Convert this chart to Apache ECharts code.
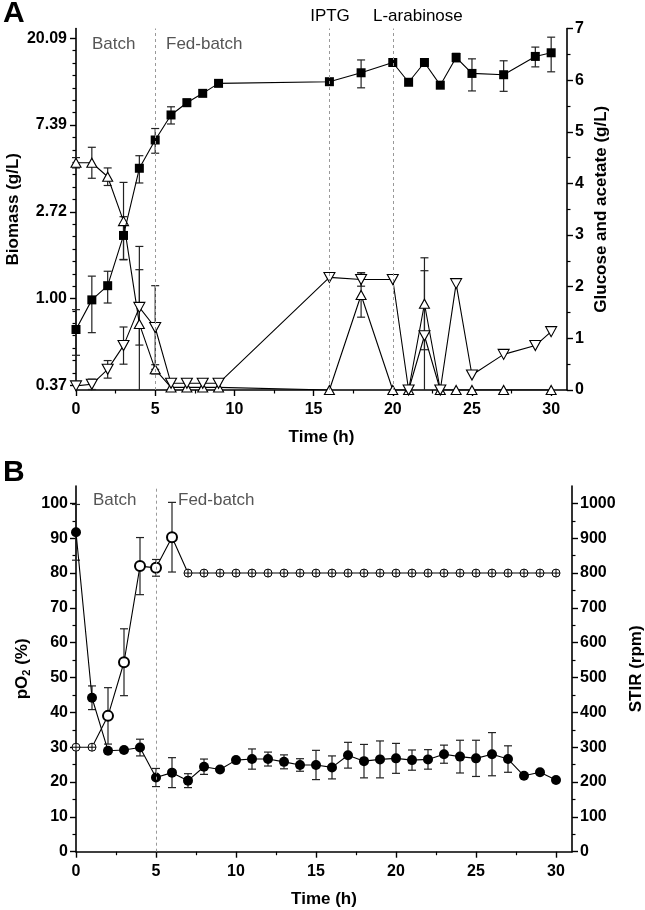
<!DOCTYPE html>
<html><head><meta charset="utf-8">
<script src="https://cdn.jsdelivr.net/npm/echarts@6/dist/echarts.min.js"></script>
<style>html,body{margin:0;padding:0;background:#fff}#c{width:645px;height:910px}</style>
</head><body><div id="c"></div>
<script>
// ---------- Panel A data ----------
const biomassTime = [0,1,2,3,4,5,6,7,8,9,16,18,20,21,22,23,24,25,27,29,30];
const biomass     = [0.70,0.985,1.16,2.07,4.49,6.22,8.30,9.56,10.65,11.95,12.18,13.5,15.2,12.1,15.2,11.7,16.1,13.4,13.2,16.3,17.0];
const biomassErr  = [0.18,0.31,0.21,0.5,0.7,0.88,0.82,0.4,0,0,0,2.15,0,0,0,0,0.8,2.45,2.3,1.85,3.35];

const glucoseTime = [0,1,2,3,4,5,6,7,8,9,16,18,20,21,22,23,24,25,27,30];
const glucose     = [4.40,4.40,4.13,3.27,1.28,0.40,0.05,0.05,0.05,0.05,0,1.84,0,0,1.67,0,0,0,0,0];
const glucoseErr  = [0.1,0.30,0.17,0.75,1.5,0.09,0,0,0,0,0,0.43,0,0,0.89,0,0,0,0,0];

const acetateTime = [0,1,2,3,4,5,6,7,8,9,16,18,20,21,22,23,24,25,27,29,30];
const acetate     = [0.08,0.11,0.40,0.86,1.60,1.21,0.13,0.13,0.13,0.13,2.18,2.14,2.14,0,1.05,0,2.06,0.29,0.69,0.86,1.13];
const acetateErr  = [0,0.1,0.17,0.36,0.73,0.81,0,0,0,0,0,0.13,0,0,1.26,0,0,0,0,0,0];

const eventTimesA  = [5,16,20];
const timeTicks    = [0,5,10,15,20,25,30];
const timeMinor    = [2.5,7.5,12.5,17.5,22.5,27.5];
const lnTicks      = [-1,0,1,2,3];          // natural-log positions: 0.37, 1.00, 2.72, 7.39, 20.09
const concTicks    = [0,1,2,3,4,5,6,7];
const concMinor    = [0.5,1.5,2.5,3.5,4.5,5.5,6.5];

// ---------- Panel B data ----------
const hoursB = [0,1,2,3,4,5,6,7,8,9,10,11,12,13,14,15,16,17,18,19,20,21,22,23,24,25,26,27,28,29,30];
const pO2    = [91.7,44.2,29.0,29.2,29.9,21.3,22.7,20.4,24.4,23.6,26.3,26.6,26.6,25.8,24.9,24.9,24.2,27.7,26.0,26.5,26.8,26.3,26.5,28.0,27.3,26.8,28.0,26.6,21.8,22.8,20.6];
const pO2Err = [8,3.4,0,0,2.4,2.6,4.3,2.0,2.2,0,0,2.9,2.0,2.0,1.8,4.2,3.3,3.7,4.8,5.3,4.3,2.9,2.8,2.6,4.7,5.2,6.2,3.8,0,0,0];
const stir    = [300,300,390,544,820,815,903,800,800,800,800,800,800,800,800,800,800,800,800,800,800,800,800,800,800,800,800,800,800,800,800];
const stirErr = [0,0,81,96,82,24,100,0,0,0,0,0,0,0,0,0,0,0,0,0,0,0,0,0,0,0,0,0,0,0,0];
const eventTimesB = [5];
const pO2Ticks  = [0,10,20,30,40,50,60,70,80,90,100];
const pO2Minor  = [5,15,25,35,45,55,65,75,85,95];
const stirTicks = [0,100,200,300,400,500,600,700,800,900,1000];
const stirMinor = [50,150,250,350,450,550,650,750,850,950];

// ---------- helpers ----------
const FONT = 'Liberation Sans, Arial, sans-serif';
const LN_MIN = -1.054, LN_MAX = 3.113;
const ident = v => v;
const lnT = v => (v > 0 ? Math.log(v) : -Infinity);
const lnMinor = [];
lnTicks.forEach(t => { for (let k = 1; k < 7; k++) { const m = t + k / 7; if (m < LN_MAX) lnMinor.push(m); } });

function errBars(xs, vals, errs, xi, yi, tf, yMin) {
  const data = [];
  xs.forEach((x, i) => { if (errs[i] > 0) data.push([x, vals[i], errs[i]]); });
  return {
    type: 'custom', xAxisIndex: xi, yAxisIndex: yi, z: 1, silent: true, animation: false,
    data: data,
    encode: { x: 0, y: 1 },
    renderItem: function (params, api) {
      const x = api.value(0), v = api.value(1), e = api.value(2);
      const hi = tf(v + e);
      let lo = tf(v - e), capLo = true;
      if (!(lo > yMin)) { lo = yMin; capLo = false; }
      const p1 = api.coord([x, hi]), p2 = api.coord([x, lo]);
      const st = { stroke: '#222', lineWidth: 1.2 };
      const ch = [
        { type: 'line', shape: { x1: p1[0], y1: p1[1], x2: p2[0], y2: p2[1] }, style: st },
        { type: 'line', shape: { x1: p1[0] - 4, y1: p1[1], x2: p1[0] + 4, y2: p1[1] }, style: st }
      ];
      if (capLo) ch.push({ type: 'line', shape: { x1: p2[0] - 4, y1: p2[1], x2: p2[0] + 4, y2: p2[1] }, style: st });
      return { type: 'group', children: ch };
    }
  };
}

const tickLabel = { fontSize: 16, fontWeight: 'bold', color: '#000', fontFamily: FONT, formatter: v => String(v) };
const nameStyle = { fontSize: 17, fontWeight: 'bold', color: '#000', fontFamily: FONT };
const axLine = { show: true, onZero: false, lineStyle: { color: '#000', width: 1.6 } };
const tick = vals => ({ show: true, customValues: vals, length: 6, lineStyle: { color: '#000', width: 1.4 } });
const minorTk = vals => ({ show: true, customValues: vals, length: 3.5, lineStyle: { color: '#000', width: 1.2 } });

// overlay axis carrying only the minor ticks
function minorAxis(grid, pos, min, max, vals) {
  return { type: 'value', gridIndex: grid, position: pos, min: min, max: max, silent: true,
           axisLine: { show: false, onZero: false }, axisTick: minorTk(vals),
           axisLabel: { show: false }, splitLine: { show: false } };
}

const crossPath = 'path://M0,10 A10,10 0 1 1 20,10 A10,10 0 1 1 0,10 Z M0,10 L20,10 M10,0 L10,20';

const vline = (times) => ({
  silent: true, symbol: ['none', 'none'], animation: false,
  lineStyle: { type: [3, 3], color: '#999', width: 1 },
  label: { show: false },
  data: times.map(t => ({ xAxis: t }))
});

const txt = (text, x, y, size, color, weight, align) => ({
  type: 'text', x: x, y: y, silent: true,
  style: { text: text, fontSize: size, fontWeight: weight || 'normal', fontFamily: FONT, fill: color,
           verticalAlign: 'middle', align: align || 'left' }
});

const option = {
  animation: false,
  textStyle: { fontFamily: FONT },
  grid: [
    { left: 76, right: 78, top: 28.5, bottom: 520, containLabel: false, outerBoundsMode: 'none' },
    { left: 76, right: 73, top: 486, bottom: 58.3, containLabel: false, outerBoundsMode: 'none' }
  ],
  xAxis: [
    { type: 'value', gridIndex: 0, min: 0, max: 31, axisLine: axLine, axisTick: tick(timeTicks),
      axisLabel: Object.assign({}, tickLabel, { customValues: timeTicks, margin: 12 }), splitLine: { show: false },
      name: 'Time (h)', nameLocation: 'middle', nameGap: 39, nameMoveOverlap: false, nameTextStyle: nameStyle },
    { type: 'value', gridIndex: 1, min: 0, max: 31, axisLine: axLine, axisTick: tick(timeTicks),
      axisLabel: Object.assign({}, tickLabel, { customValues: timeTicks, margin: 12 }), splitLine: { show: false },
      name: 'Time (h)', nameLocation: 'middle', nameGap: 39, nameMoveOverlap: false, nameTextStyle: nameStyle },
    minorAxis(0, 'bottom', 0, 31, timeMinor),
    minorAxis(1, 'bottom', 0, 31, timeMinor)
  ],
  yAxis: [
    { type: 'value', gridIndex: 0, position: 'left', min: LN_MIN, max: LN_MAX, axisLine: axLine, axisTick: tick(lnTicks),
      splitLine: { show: false },
      axisLabel: Object.assign({}, tickLabel, { customValues: lnTicks, margin: 9, formatter: v => Math.exp(v).toFixed(2) }),
      name: 'Biomass (g/L)', nameLocation: 'middle', nameRotate: 90, nameGap: 54, nameMoveOverlap: false, nameTextStyle: nameStyle },
    { type: 'value', gridIndex: 0, position: 'right', min: 0, max: 7, interval: 1, axisLine: axLine, axisTick: tick(concTicks),
      splitLine: { show: false },
      axisLabel: Object.assign({}, tickLabel, { customValues: concTicks, margin: 8 }),
      name: 'Glucose and acetate (g/L)', nameLocation: 'middle', nameRotate: 90, nameGap: 26, nameMoveOverlap: false, nameTextStyle: nameStyle },
    { type: 'value', gridIndex: 1, position: 'left', min: 0, max: 105, interval: 10, axisLine: axLine, axisTick: tick(pO2Ticks),
      splitLine: { show: false },
      axisLabel: Object.assign({}, tickLabel, { customValues: pO2Ticks, margin: 8 }),
      name: 'pO{s|2} (%)', nameLocation: 'middle', nameRotate: 90, nameGap: 44, nameMoveOverlap: false,
      nameTextStyle: Object.assign({ rich: { s: { fontSize: 11, fontWeight: 'bold', color: '#000', verticalAlign: 'bottom', padding: [8, 0, 0, 0] } } }, nameStyle) },
    { type: 'value', gridIndex: 1, position: 'right', min: 0, max: 1050, interval: 100, axisLine: axLine, axisTick: tick(stirTicks),
      splitLine: { show: false },
      axisLabel: Object.assign({}, tickLabel, { customValues: stirTicks, margin: 8 }),
      name: 'STIR (rpm)', nameLocation: 'middle', nameRotate: 90, nameGap: 56, nameMoveOverlap: false, nameTextStyle: nameStyle },
    minorAxis(0, 'left', LN_MIN, LN_MAX, lnMinor),
    minorAxis(0, 'right', 0, 7, concMinor),
    minorAxis(1, 'left', 0, 105, pO2Minor),
    minorAxis(1, 'right', 0, 1050, stirMinor)
  ],
  graphic: [
    txt('A', 3, 14, 30, '#000', 'bold'),
    txt('B', 3, 473, 30, '#000', 'bold'),
    txt('Batch', 92, 44, 17, '#555'),
    txt('Fed-batch', 166, 44, 17, '#555'),
    txt('IPTG', 330, 16, 17, '#000', 'normal', 'center'),
    txt('L-arabinose', 373, 16, 17, '#000'),
    txt('Batch', 93, 500, 17, '#555'),
    txt('Fed-batch', 178, 500, 17, '#555')
  ],
  series: [
    errBars(biomassTime, biomass, biomassErr, 0, 0, lnT, LN_MIN),
    errBars(glucoseTime, glucose, glucoseErr, 0, 1, ident, 0),
    errBars(acetateTime, acetate, acetateErr, 0, 1, ident, 0),
    { type: 'line', name: 'Glucose', xAxisIndex: 0, yAxisIndex: 1, z: 3,
      data: glucoseTime.map((t, i) => [t, glucose[i]]),
      symbol: 'triangle', symbolSize: [10, 9],
      itemStyle: { color: '#fff', borderColor: '#000', borderWidth: 1.1 },
      lineStyle: { color: '#000', width: 1.1 } },
    { type: 'line', name: 'Acetate', xAxisIndex: 0, yAxisIndex: 1, z: 3,
      data: acetateTime.map((t, i) => [t, acetate[i]]),
      symbol: 'triangle', symbolRotate: 180, symbolSize: [11, 10],
      itemStyle: { color: '#fff', borderColor: '#000', borderWidth: 1.1 },
      lineStyle: { color: '#000', width: 1.1 } },
    { type: 'line', name: 'Biomass', xAxisIndex: 0, yAxisIndex: 0, z: 4,
      data: biomassTime.map((t, i) => [t, Math.log(biomass[i])]),
      symbol: 'rect', symbolSize: 9,
      itemStyle: { color: '#000' }, lineStyle: { color: '#000', width: 1.1 },
      markLine: vline(eventTimesA) },

    errBars(hoursB, pO2, pO2Err, 1, 2, ident, 0),
    errBars(hoursB, stir, stirErr, 1, 3, ident, 0),
    { type: 'line', name: 'STIR', xAxisIndex: 1, yAxisIndex: 3, z: 3,
      data: hoursB.map((t, i) => stirErr[i] > 0
        ? { value: [t, stir[i]] }
        : { value: [t, stir[i]], symbol: crossPath, symbolSize: 8, itemStyle: { color: '#fff', borderColor: '#000', borderWidth: 1 } }),
      symbol: 'emptyCircle', symbolSize: 10,
      itemStyle: { color: '#000', borderColor: '#000', borderWidth: 1.2 },
      lineStyle: { color: '#000', width: 1.1 } },
    { type: 'line', name: 'pO2', xAxisIndex: 1, yAxisIndex: 2, z: 4,
      data: hoursB.map((t, i) => [t, pO2[i]]),
      symbol: 'circle', symbolSize: 10,
      itemStyle: { color: '#000' }, lineStyle: { color: '#000', width: 1.1 },
      markLine: vline(eventTimesB) }
  ]
};

const chart = echarts.init(document.getElementById('c'), null, { renderer: 'canvas' });
chart.setOption(option);
</script>
</body></html>
